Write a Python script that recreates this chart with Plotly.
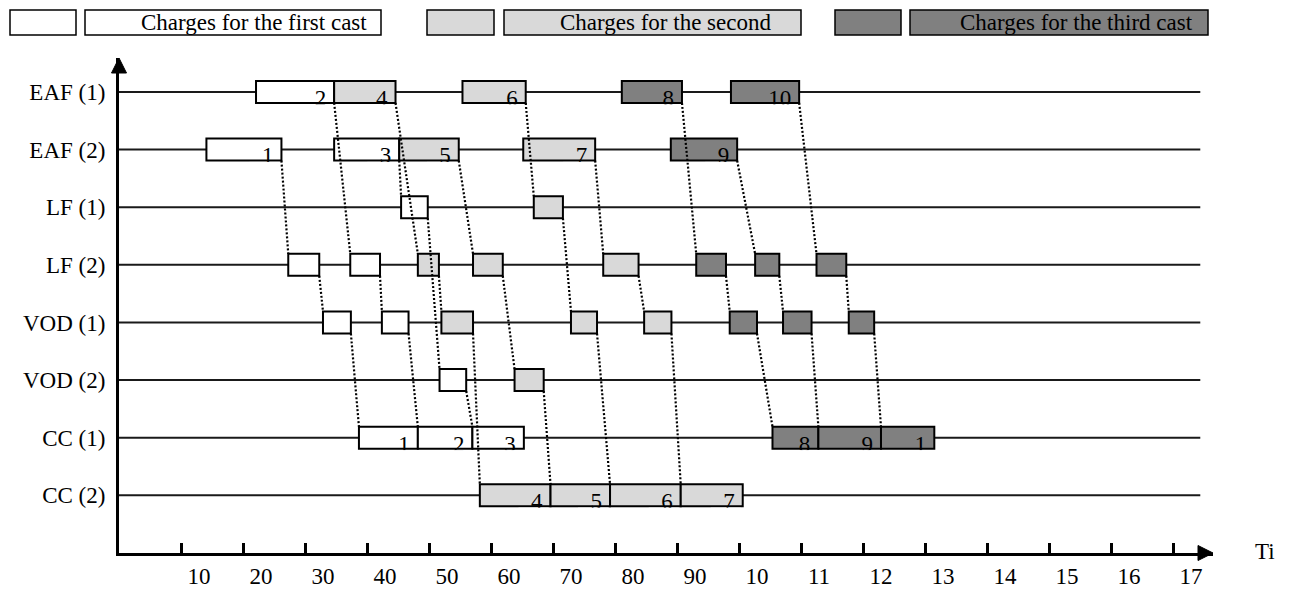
import plotly.graph_objects as go

# ---------------- data ----------------
rows = ['EAF (1)', 'EAF (2)', 'LF (1)', 'LF (2)', 'VOD (1)', 'VOD (2)', 'CC (1)', 'CC (2)']
charges = [1, 2, 3, 4, 5, 6, 7, 8, 9, 10]
cast = [1, 1, 1, 2, 2, 2, 2, 3, 3, 3]

eaf_unit = [2, 1, 2, 1, 2, 1, 2, 1, 2, 1]
eaf_start = [14.1, 22.1, 34.7, 34.7, 45.2, 55.4, 65.2, 81.1, 89.0, 98.7]
eaf_end = [26.2, 34.7, 45.2, 44.6, 54.8, 65.6, 76.8, 90.8, 99.7, 109.7]

lf_unit = [2, 2, 1, 2, 2, 1, 2, 2, 2, 2]
lf_start = [27.3, 37.3, 45.5, 48.2, 57.1, 66.9, 78.1, 93.1, 102.6, 112.5]
lf_end = [32.3, 42.1, 49.8, 51.6, 61.9, 71.6, 83.8, 97.9, 106.5, 117.3]

vod_unit = [1, 1, 2, 1, 2, 1, 1, 1, 1, 1]
vod_start = [32.9, 42.4, 51.7, 52.0, 63.8, 72.9, 84.7, 98.5, 107.1, 117.7]
vod_end = [37.4, 46.7, 56.0, 57.1, 68.5, 77.1, 89.1, 102.9, 111.7, 121.8]

cc_unit = [1, 1, 1, 2, 2, 2, 2, 1, 1, 1]
cc_start = [38.7, 48.2, 57.0, 58.2, 69.6, 79.2, 90.6, 105.4, 112.8, 122.9]
cc_end = [48.2, 57.0, 65.3, 69.6, 79.2, 90.6, 100.6, 112.8, 122.9, 131.5]
cc_label = ['1', '2', '3', '4', '5', '6', '7', '8', '9', '1']

tick_vals = [10, 20, 30, 40, 50, 60, 70, 80, 90, 100, 110, 120, 130, 140, 150, 160, 170]
tick_text = ['10', '20', '30', '40', '50', '60', '70', '80', '90',
             '10', '11', '12', '13', '14', '15', '16', '17']
legend_text = ['Charges for the first cast', 'Charges for the second', 'Charges for the third cast']
axis_title = 'Ti'

# ---------------- style / layout ----------------
FONT = 'Liberation Serif'
FS = 23
cast_fill = {1: '#ffffff', 2: '#d9d9d9', 3: '#808080'}
W, H = 1292, 590
ML, MR, MT, MB = 119, 79, 58, 37
PW, PH = W - ML - MR, H - MT - MB
XMAX = 176.45
Y_TOP, Y_BOT = -0.59, 8.0
PX_PER_X = PW / XMAX
PX_PER_Y = PH / (Y_BOT - Y_TOP)
BAR_H = 22 / PX_PER_Y
HB = BAR_H / 2
LINE_END = 174.4

stage_offset = {'EAF': 0, 'LF': 2, 'VOD': 4, 'CC': 6}
stages = [
    ('EAF', eaf_unit, eaf_start, eaf_end),
    ('LF', lf_unit, lf_start, lf_end),
    ('VOD', vod_unit, vod_start, vod_end),
    ('CC', cc_unit, cc_start, cc_end),
]


def row_of(stage, unit):
    return stage_offset[stage] + unit - 1


def px_x(px):
    return (px - ML) / PW


def px_y(py):
    return (MT + PH - py) / PH


fig = go.Figure()

# boxes
by, bx, bb, bc = [], [], [], []
for name, units, st, en in stages:
    for i in range(len(charges)):
        by.append(row_of(name, units[i]))
        bb.append(st[i])
        bx.append(en[i] - st[i])
        bc.append(cast_fill[cast[i]])
fig.add_trace(go.Bar(orientation='h', y=by, x=bx, base=bb, width=BAR_H,
                     marker=dict(color=bc, line=dict(color='black', width=2)),
                     hoverinfo='skip', showlegend=False))

# dotted connectors (end of one stage -> start of next stage)
cx, cy = [], []
for k in range(len(stages) - 1):
    n1, u1, s1, e1 = stages[k]
    n2, u2, s2, e2 = stages[k + 1]
    for i in range(len(charges)):
        cx += [e1[i], s2[i], None]
        cy += [row_of(n1, u1[i]) + HB, row_of(n2, u2[i]) - HB, None]
fig.add_trace(go.Scatter(x=cx, y=cy, mode='lines',
                         line=dict(color='black', width=2.2, dash='2px,2px'),
                         hoverinfo='skip', showlegend=False))

# numbers in EAF and CC boxes
PAD = 8 / PX_PER_X
DY = 8 / PX_PER_Y
tx, ty, tt = [], [], []
for i in range(len(charges)):
    tx.append(eaf_end[i] - PAD)
    ty.append(row_of('EAF', eaf_unit[i]) + DY)
    tt.append(str(charges[i]))
for i in range(len(charges)):
    tx.append(cc_end[i] - PAD)
    ty.append(row_of('CC', cc_unit[i]) + DY)
    tt.append(cc_label[i])
fig.add_trace(go.Scatter(x=tx, y=ty, text=tt, mode='text', textposition='middle left',
                         textfont=dict(family=FONT, size=FS, color='black'),
                         hoverinfo='skip', showlegend=False))

shapes = []
# row lines
for r in range(len(rows)):
    shapes.append(dict(type='line', xref='x', yref='y', x0=0, x1=LINE_END, y0=r, y1=r,
                       line=dict(color='#1a1a1a', width=2), layer='below'))
# white covers to clip the numbers at the box bottom
for j in range(len(tx)):
    xe = tx[j] + PAD
    yr = round(ty[j] - DY)
    shapes.append(dict(type='rect', xref='x', yref='y',
                       x0=xe - 32 / PX_PER_X, x1=xe - 2 / PX_PER_X,
                       y0=yr + HB + 1.3 / PX_PER_Y, y1=yr + HB + 10 / PX_PER_Y,
                       fillcolor='white', line=dict(width=0), layer='above'))
# arrowheads
shapes.append(dict(type='path', xref='paper', yref='paper', layer='above',
                   path=f'M{px_x(119)},{px_y(58)} L{px_x(111.5)},{px_y(73)} L{px_x(126.5)},{px_y(73)} Z',
                   fillcolor='black', line=dict(color='black', width=1)))
shapes.append(dict(type='path', xref='paper', yref='paper', layer='above',
                   path=f'M{px_x(1213)},{px_y(553)} L{px_x(1198)},{px_y(545.5)} L{px_x(1198)},{px_y(560.5)} Z',
                   fillcolor='black', line=dict(color='black', width=1)))

# legend
legend_boxes = [((10, 76), (85, 381), 254), ((427, 494), (504, 801), 665), ((835, 901), (910, 1208), 1076)]
annotations = []
for k, ((s0, s1), (b0, b1), tc) in enumerate(legend_boxes):
    for (a, b) in [(s0, s1), (b0, b1)]:
        shapes.append(dict(type='rect', xref='paper', yref='paper',
                           x0=px_x(a), x1=px_x(b), y0=px_y(35), y1=px_y(10),
                           fillcolor=cast_fill[k + 1], line=dict(color='black', width=1.5)))
    annotations.append(dict(xref='paper', yref='paper', x=px_x(tc), y=px_y(22.5),
                            text=legend_text[k], showarrow=False, xanchor='center', yanchor='middle',
                            font=dict(family=FONT, size=FS, color='black')))
annotations.append(dict(xref='paper', yref='paper', x=px_x(1265), y=px_y(551), text=axis_title,
                        showarrow=False, xanchor='center', yanchor='middle',
                        font=dict(family=FONT, size=FS, color='black')))

fig.update_layout(
    width=W, height=H, margin=dict(l=ML, r=MR, t=MT, b=MB, autoexpand=False),
    paper_bgcolor='white', plot_bgcolor='white', barmode='overlay', showlegend=False,
    shapes=shapes, annotations=annotations,
    font=dict(family=FONT, size=FS, color='black'),
    xaxis=dict(range=[0, XMAX], showgrid=False, zeroline=False, showline=True, automargin=False,
               linecolor='black', linewidth=3, ticks='inside', ticklen=10, tickwidth=2.5,
               tickcolor='black', tickvals=tick_vals, ticktext=tick_text,
               ticklabelshift=18, ticklabelstandoff=0,
               tickfont=dict(family=FONT, size=FS, color='black'), fixedrange=True),
    yaxis=dict(range=[Y_BOT, Y_TOP], showgrid=False, zeroline=False, showline=True, automargin=False,
               linecolor='black', linewidth=3, ticks='', tickvals=list(range(len(rows))),
               ticktext=rows, ticklabelstandoff=6,
               tickfont=dict(family=FONT, size=FS, color='black'), fixedrange=True),
)

fig.write_html('out.html', config={'displayModeBar': False},
               post_script="document.body.style.margin='0px';document.body.style.overflow='hidden';")
